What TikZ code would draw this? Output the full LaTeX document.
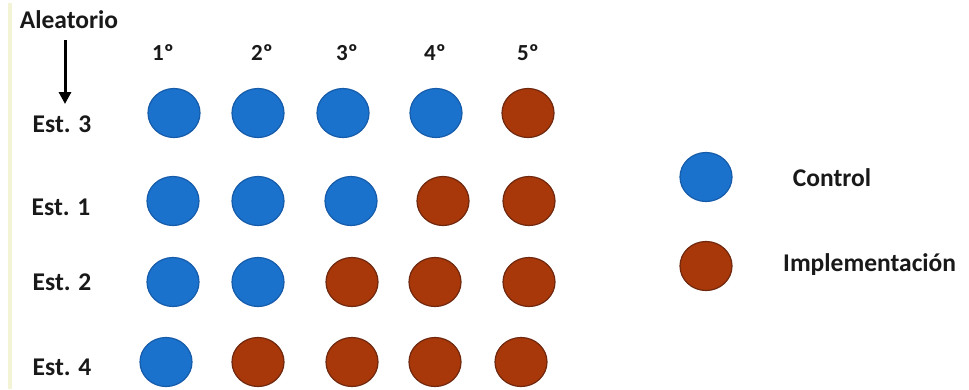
\documentclass[tikz,border=0pt]{standalone}
\usepackage{fontspec}
\setmainfont{Carlito}
\usetikzlibrary{shapes.geometric,arrows.meta}
\definecolor{ctrlblue}{RGB}{26,114,204}
\definecolor{ctrledge}{RGB}{22,92,170}
\definecolor{implbrown}{RGB}{168,56,10}
\definecolor{impledge}{RGB}{112,40,14}
\definecolor{bandyellow}{RGB}{243,244,214}
\definecolor{txt}{RGB}{25,25,25}
\tikzset{
  dot/.style={ellipse, minimum width=52pt, minimum height=49pt, inner sep=0pt, line width=1.2pt},
  ctrl/.style={dot, fill=ctrlblue, draw=ctrledge},
  impl/.style={dot, fill=implbrown, draw=impledge},
  lbl/.style={font=\fontsize{25.5}{28}\selectfont\bfseries, text=txt, inner sep=0pt},
  hdr/.style={font=\fontsize{23}{26}\selectfont\bfseries, text=txt, inner sep=0pt},
}
\begin{document}
\begin{tikzpicture}[x=1pt,y=-1pt]
\useasboundingbox (0,0) rectangle (969,389);
\fill[white] (0,0) rectangle (969,389);
\fill[bandyellow] (8,3) rectangle (12,389);
% labels
\node[lbl] (alea) at (69,20) {Aleatorio};
\coordinate (a1) at (65,40);
\coordinate (a2) at (65,104);
\draw[line width=3pt, -{Triangle[width=12pt,length=12pt]}] (a1) -- (a2);
\node[hdr] (h1) at (163,53) {1º};
\node[hdr] (h2) at (262,53) {2º};
\node[hdr] (h3) at (347,53) {3º};
\node[hdr] (h4) at (435,53) {4º};
\node[hdr] (h5) at (528,53) {5º};
\node[lbl] (e3) at (62,124) {Est. 3};
\node[lbl] (e1) at (61,207) {Est. 1};
\node[lbl] (e2) at (62,282) {Est. 2};
\node[lbl] (e4) at (62,367) {Est. 4};
% row Est. 3
\node[ctrl] (r1c1) at (174,113) {};
\node[ctrl] (r1c2) at (258,113) {};
\node[ctrl] (r1c3) at (343,113) {};
\node[ctrl] (r1c4) at (436,113) {};
\node[impl] (r1c5) at (528,113) {};
% row Est. 1
\node[ctrl] (r2c1) at (173,201) {};
\node[ctrl] (r2c2) at (258,201) {};
\node[ctrl] (r2c3) at (351,201) {};
\node[impl] (r2c4) at (443,201) {};
\node[impl] (r2c5) at (529,201) {};
% row Est. 2
\node[ctrl] (r3c1) at (173,282) {};
\node[ctrl] (r3c2) at (258,282) {};
\node[impl] (r3c3) at (352,282) {};
\node[impl] (r3c4) at (435,282) {};
\node[impl] (r3c5) at (529,282) {};
% row Est. 4
\node[ctrl] (r4c1) at (166,362) {};
\node[impl] (r4c2) at (258,362) {};
\node[impl] (r4c3) at (352,362) {};
\node[impl] (r4c4) at (435,362) {};
\node[impl] (r4c5) at (521,362) {};
% legend
\node[ctrl] (lc) at (706,177) {};
\node[impl] (li) at (706,266) {};
\node[lbl] (ltc) at (832,178) {Control};
\node[lbl, anchor=west] (lti) at (783,265) {Implementación};
\end{tikzpicture}
\end{document}
